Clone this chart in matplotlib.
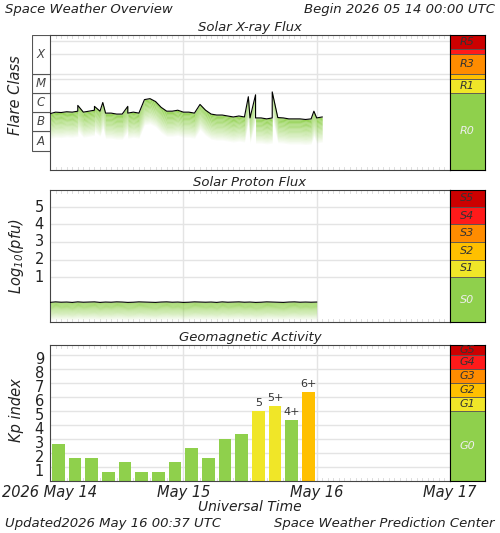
import numpy as np
import matplotlib
matplotlib.use("Agg")
import matplotlib.pyplot as plt
from matplotlib.patches import Rectangle

plt.rcParams['font.family'] = ['DejaVu Sans']
plt.rcParams['font.style'] = 'italic'

# X-ray flux, log10 W/m2, hourly from May 14 00:00
xray_log = [-6.08,-6.0,-6.02,-5.98,-6.0,-5.95,-6.0,-5.95,-5.9,-5.95,-6.05,-6.05,
            -6.1,-6.1,-6.05,-6.0,-6.05,-5.35,-5.3,-5.45,-5.75,-5.95,-5.95,-5.9,
            -6.0,-6.0,-6.05,-5.6,-5.9,-6.1,-6.15,-6.15,-6.2,-6.25,-6.2,-6.25,
            -6.3,-6.3,-6.3,-6.35,-6.3,-6.28,-6.3,-6.35,-6.35,-6.35,-6.38,-6.35,-6.3,-6.25]
xray_spikes_t = [5.0, 8.0, 9.5, 14.0, 35.7, 37.0, 40.0, 47.5]
xray_spikes_v = [-5.65, -5.7, -5.5, -5.7, -5.2, -5.1, -4.95, -5.95]

# Proton flux log10 pfu, hourly
proton_log = [-0.45,-0.42,-0.44,-0.43,-0.45,-0.42,-0.44,-0.43,-0.42,-0.45,-0.43,-0.44,
              -0.42,-0.43,-0.45,-0.44,-0.42,-0.43,-0.44,-0.45,-0.43,-0.42,-0.44,-0.43,
              -0.45,-0.44,-0.42,-0.43,-0.44,-0.43,-0.45,-0.42,-0.44,-0.43,-0.42,-0.44,
              -0.43,-0.45,-0.44,-0.42,-0.43,-0.44,-0.45,-0.43,-0.42,-0.44,-0.43,-0.44,-0.43]

# Kp, 3-hourly
kp_vals = [2.67,1.67,1.67,0.67,1.33,0.67,0.67,1.33,2.33,1.67,3.0,3.33,5.0,5.33,4.33,6.33]
kp_labels = {12: "5", 13: "5+", 14: "4+", 15: "6+"}

day_labels = ["2026 May 14", "May 15", "May 16", "May 17"]

W, H = 500, 533
fig = plt.figure(figsize=(5, 5.33), dpi=100)

def ax_at(x0, y0, x1, y1):
    return fig.add_axes([x0/W, 1-y1/H, (x1-x0)/W, (y1-y0)/H])

GREEN = '#8fd04c'
GRID = '#e4e4e4'

def style_main(ax):
    ax.set_xlim(0, 72)
    for d in (24, 48):
        ax.axvline(d, color=GRID, lw=1, zorder=0)
    ax.set_xticks([])
    ax.set_yticks([])
    for h in range(1, 72):
        ax.plot([h, h], [0, 0.025], transform=ax.get_xaxis_transform(), color='#d8d8d8', lw=0.6, zorder=0)
        ax.plot([h, h], [0.975, 1], transform=ax.get_xaxis_transform(), color='#d8d8d8', lw=0.6, zorder=0)
    for s in ax.spines.values():
        s.set_color('#444444')

def gradient_fill(ax, t, v, depth, n=20):
    v = np.array(v)
    for k in range(n):
        a = 0.95 * (1 - k/n)
        ax.fill_between(t, v - depth*k/n, v - depth*(k+1)/n, color=GREEN, alpha=a, lw=0, zorder=1)

def scale_box(ax, bounds, colors, labels, ylim):
    ax.set_xlim(0, 1); ax.set_ylim(*ylim)
    ax.set_xticks([]); ax.set_yticks([])
    for (b0, b1), c, l in zip(bounds, colors, labels):
        ax.add_patch(Rectangle((0, b0), 1, b1-b0, facecolor=c, edgecolor='#555555', lw=0.6))
        if l:
            ax.text(0.5, (b0+b1)/2, l, ha='center', va='center', fontsize=8,
                    color='#eeeeee' if l.endswith('0') else '#333333')

# Titles
fig.text(5/W, 1-9/H, "Space Weather Overview", fontsize=9.5, va='center', color='#222222')
fig.text(495/W, 1-9/H, "Begin 2026 05 14 00:00 UTC", fontsize=9.5, va='center', ha='right', color='#222222')

# --- Panel 1: X-ray
ax1 = ax_at(50, 35, 450, 170)
ax1.set_ylim(-9, -2)
for y in [-2.3, -3, -4, -4.3, -5]:
    ax1.axhline(y, color=GRID, lw=1, zorder=0)
style_main(ax1)
t = np.arange(len(xray_log), dtype=float)
tt = list(t) + xray_spikes_t
vv = list(xray_log) + xray_spikes_v
order = np.argsort(tt)
tt = np.array(tt)[order]; vv = np.array(vv)[order]
gradient_fill(ax1, tt, vv, 1.3)
ax1.plot(tt, vv, color='black', lw=0.8, zorder=3)
ax1.set_title("Solar X-ray Flux", fontsize=9.5, pad=3, color='#222222')
fig.text(16/W, 1-95/H, "Flare Class", rotation=90, fontsize=10.5, va='center', ha='center', color='#222222')
axc = ax_at(32, 35, 50, 170)
axc.set_ylim(-9, -2); axc.set_xlim(0, 1); axc.axis('off')
for b0, b1, l in [(-8, -7, 'A'), (-7, -6, 'B'), (-6, -5, 'C'), (-5, -4, 'M'), (-4, -2, 'X')]:
    axc.add_patch(Rectangle((0, b0), 1, b1-b0, facecolor='white', edgecolor='#555555', lw=0.8))
    axc.text(0.5, (b0+b1)/2 if l != 'X' else -3.0, l, ha='center', va='center', fontsize=8.5, color='#444444')
axr = ax_at(450, 35, 485, 170)
scale_box(axr, [(-9, -5), (-5, -4.3), (-4.3, -4), (-4, -3), (-3, -2.7), (-2.7, -2)],
          [GREEN, '#f0e628', '#ffc000', '#ff8c00', '#ff1a1a', '#cc0000'],
          ['R0', 'R1', '', 'R3', '', 'R5'], (-9, -2))

# --- Panel 2: Proton
ax2 = ax_at(50, 190, 450, 322)
ylim2 = (-1.57, 5.97)
ax2.set_ylim(*ylim2)
for y in range(1, 6):
    ax2.axhline(y, color=GRID, lw=1, zorder=0)
style_main(ax2)
tp = np.arange(len(proton_log), dtype=float)
gradient_fill(ax2, tp, proton_log, 1.0)
ax2.plot(tp, proton_log, color='black', lw=0.8, zorder=3)
ax2.set_title("Solar Proton Flux", fontsize=9.5, pad=3, color='#222222')
for y in range(1, 6):
    fig.text(44/W, 1-(294.5-17.5*y)/H, str(y), fontsize=10.5, ha='right', va='center', style='normal', color='#222222')
fig.text(16/W, 1-256/H, r"Log$_{10}$(pfu)", rotation=90, fontsize=10.5, va='center', ha='center', color='#222222')
axr2 = ax_at(450, 190, 485, 322)
scale_box(axr2, [(ylim2[0], 1), (1, 2), (2, 3), (3, 4), (4, 5), (5, ylim2[1])],
          [GREEN, '#f0e628', '#ffc000', '#ff8c00', '#ff1a1a', '#cc0000'],
          ['S0', 'S1', 'S2', 'S3', 'S4', 'S5'], ylim2)

# --- Panel 3: Kp
ax3 = ax_at(50, 345, 450, 481)
ylim3 = (0, 9.7)
ax3.set_ylim(*ylim3)
for y in range(1, 10):
    ax3.axhline(y, color=GRID, lw=1, zorder=0)
style_main(ax3)
kt = np.arange(len(kp_vals)) * 3 + 1.5
kcol = [GREEN if v < 5 else ('#f0e628' if v < 6 else '#ffc000') for v in kp_vals]
ax3.bar(kt, kp_vals, width=2.3, color=kcol, zorder=2)
for i, l in kp_labels.items():
    ax3.text(kt[i], kp_vals[i] + 0.2, l, ha='center', va='bottom', fontsize=8, style='normal', color='#333333')
ax3.set_title("Geomagnetic Activity", fontsize=9.5, pad=3, color='#222222')
for y in range(1, 10):
    fig.text(44/W, 1-(481-14*y+4)/H, str(y), fontsize=10.5, ha='right', va='center', style='normal', color='#222222')
fig.text(16/W, 1-410/H, "Kp index", rotation=90, fontsize=10.5, va='center', ha='center', color='#222222')
axr3 = ax_at(450, 345, 485, 481)
scale_box(axr3, [(0, 5), (5, 6), (6, 7), (7, 8), (8, 9), (9, ylim3[1])],
          [GREEN, '#f0e628', '#ffc000', '#ff8c00', '#ff1a1a', '#cc0000'],
          ['G0', 'G1', 'G2', 'G3', 'G4', 'G5'], ylim3)

for i, l in enumerate(day_labels):
    x = 50 + 400*i/3
    fig.text(x/W, 1-492/H, l, fontsize=10.5, ha='center', va='center', color='#222222')
fig.text(250/W, 1-507/H, "Universal Time", fontsize=10, ha='center', va='center', color='#222222')
fig.text(5/W, 1-523/H, "Updated2026 May 16 00:37 UTC", fontsize=9.5, va='center', color='#222222')
fig.text(495/W, 1-523/H, "Space Weather Prediction Center", fontsize=9.5, va='center', ha='right', color='#222222')

fig.savefig("out.png", dpi=100)
